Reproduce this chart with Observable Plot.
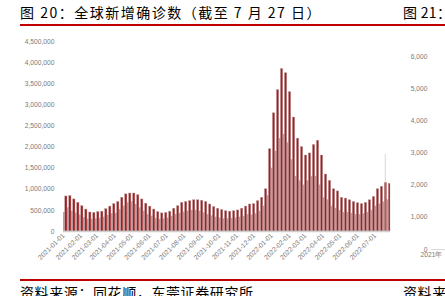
<!DOCTYPE html>
<html><head><meta charset="utf-8">
<script src="https://cdn.jsdelivr.net/npm/d3@7"></script>
<script src="https://cdn.jsdelivr.net/npm/@observablehq/plot@0.6"></script>
<style>
body{margin:0;width:445px;height:296px;overflow:hidden;position:relative;background:#fff;font-family:"Noto Sans CJK SC",sans-serif;}
.t{position:absolute;font-size:14px;color:#000;white-space:nowrap;line-height:1}
.rule{position:absolute;height:1.5px;background:#c00000;left:20px;right:0}
svg{max-width:none !important}
</style></head><body>
<div class="t" style="left:20px;top:5px;letter-spacing:1.5px">图 20：全球新增确诊数（截至 7 月 27 日）</div>
<div class="t" style="left:403px;top:5px;letter-spacing:0.3px">图 21：</div>
<div class="rule" style="top:24px"></div>
<div id="c1" style="position:absolute;left:0;top:30px;width:400px"></div>
<div id="c2" style="position:absolute;left:393px;top:30px;width:200px"></div>
<div class="rule" style="top:279px"></div>
<div class="t" style="left:20px;top:285px;letter-spacing:0.6px">资料来源：同花顺，东莞证券研究所</div>
<div class="t" style="left:403px;top:285px;letter-spacing:0.6px">资料来</div>
<script>
// Weekly data (thousands), weeks starting 2021-01-01
const weekHi = [830,840,760,680,600,520,450,440,460,470,530,590,650,700,800,880,900,900,860,760,660,590,520,460,430,440,470,540,600,680,700,720,740,740,730,700,640,580,540,510,480,470,480,500,540,590,640,650,720,800,1000,1950,2800,3350,3850,3750,3300,2700,2200,2000,1800,1850,2050,2150,1800,1350,1200,1000,950,800,780,740,700,670,650,680,740,820,1000,1060,1150,1130];
const weekLo = [450,560,480,440,390,330,290,290,300,310,340,380,420,430,520,600,680,700,640,560,480,400,360,310,290,300,320,360,400,430,460,480,500,500,480,440,400,370,340,320,300,300,310,320,340,360,400,390,420,480,600,850,1500,1900,2200,2300,2100,1700,1300,1200,1100,1200,1300,1300,1100,800,750,600,550,500,450,450,430,400,400,420,450,500,600,650,700,750];
const spikeDates = ["2022-07-19"];
const spikeValues = [1820];
const yTicks = [0,500000,1000000,1500000,2000000,2500000,3000000,3500000,4000000,4500000];
const monthLabels = ["2021-01-01","2021-02-01","2021-03-01","2021-04-01","2021-05-01","2021-06-01","2021-07-01","2021-08-01","2021-09-01","2021-10-01","2021-11-01","2021-12-01","2022-01-01","2022-02-01","2022-03-01","2022-04-01","2022-05-01","2022-06-01","2022-07-01"];
const yTicks2 = [0,1000,2000,3000,4000,5000,6000];
const years2 = ["2021年","2022年"];

const day = 864e5;
const start = new Date(Date.UTC(2021,0,1));
const end = new Date(Date.UTC(2022,6,28));
const lo = [], hi = [];
weekHi.forEach((v,i)=>{
  const s = +start + i*7*day;
  lo.push({x1:new Date(s), x2:new Date(s+3*day), y:weekLo[i]*1000});
  hi.push({x1:new Date(s+3*day), x2:new Date(Math.min(s+7*day, +end)), y:v*1000});
});
const spikes = spikeDates.map((d,i)=>({x1:new Date(d), x2:new Date(+new Date(d)+day), y:spikeValues[i]*1000}));
const ticks = monthLabels.map(d=>new Date(d));
const st = {fontSize:"6.7px", color:"#7a7a7a", fontFamily:"Liberation Sans", background:"transparent", maxWidth:"none"};

document.getElementById("c1").append(Plot.plot({
  width:400, height:240, marginTop:11, marginBottom:39, marginLeft:63, marginRight:10,
  style: st,
  x:{type:"utc", domain:[start,end], ticks:ticks, tickFormat:d3.utcFormat("%Y-%m-%d"), tickRotate:-45, tickSize:0, tickPadding:3, label:null},
  y:{domain:[0,4500000], ticks:yTicks, tickFormat:d3.format(","), tickSize:0, tickPadding:9, label:null},
  marks:[
    Plot.rectY(lo,{x1:"x1",x2:"x2",y:"y",fill:"#b0a4a5"}),
    Plot.rectY(hi,{x1:"x1",x2:"x2",y:"y",fill:"#a61c20",stroke:"#b8a8a8",strokeWidth:0.4}),
    Plot.rectY(spikes,{x1:"x1",x2:"x2",y:"y",fill:"#c4b4b4"}),
    Plot.ruleY([0],{stroke:"#d0d0d0",strokeWidth:1.5})
  ]
}));

document.getElementById("c2").append(Plot.plot({
  width:200, height:245, marginTop:26, marginBottom:26, marginLeft:38, marginRight:0,
  style: st,
  x:{type:"point", domain:years2, padding:0, tickSize:0, tickPadding:3, label:null},
  y:{domain:[0,6000], ticks:yTicks2, tickFormat:d3.format(","), tickSize:0, tickPadding:4, label:null},
  marks:[Plot.ruleY([0],{stroke:"#d9d9d9"})]
}));
</script>
</body></html>
